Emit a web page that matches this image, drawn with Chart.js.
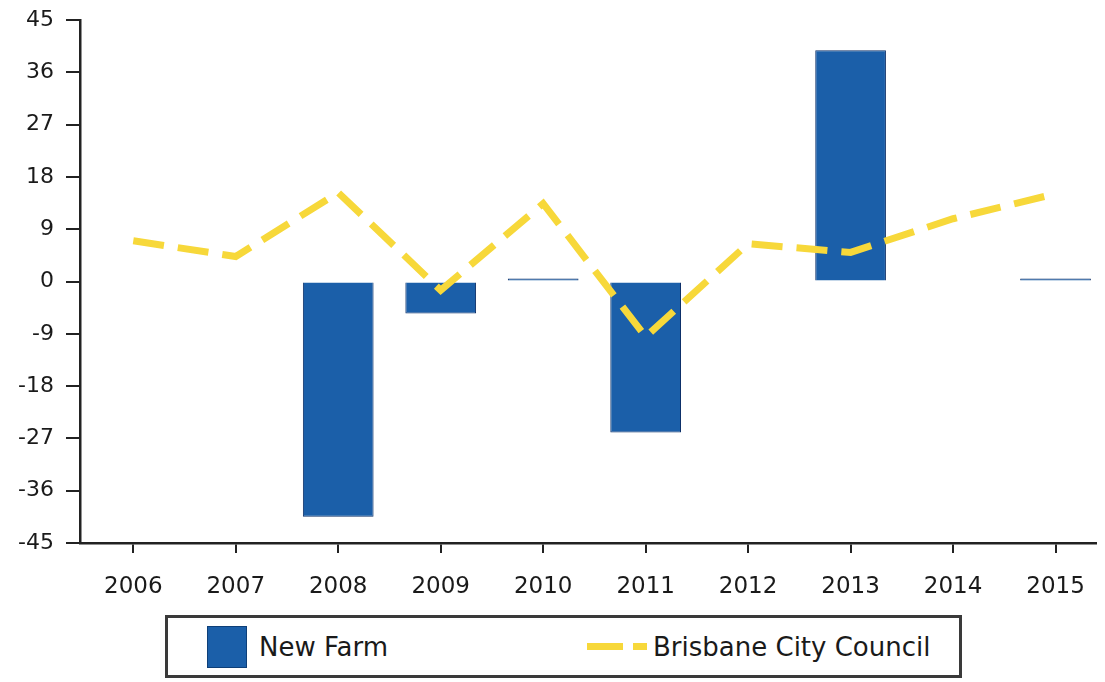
<!DOCTYPE html>
<html>
<head>
<meta charset="utf-8">
<script src="https://cdn.jsdelivr.net/npm/chart.js@4/dist/chart.umd.min.js"></script>
<style>
  body { margin: 0; background: #fff; }
  #wrap { position: relative; width: 1105px; height: 682px; }
  #legendBox {
    position: absolute; left: 165px; top: 615px; width: 797px; height: 63px;
    box-sizing: border-box; border: 3px solid #3a3a3a; background: #fff;
    font-family: "DejaVu Sans", sans-serif; font-size: 26px; color: #1a1a1a;
  }
  .item { position: absolute; top: 0; height: 57px; display: flex; align-items: center; }
  .swatch { width: 38px; height: 40px; margin-right: 12px; }
  .dash { display: flex; margin-right: 6px; }
  .dash span { height: 7px; display: block; }
</style>
</head>
<body>
<div id="wrap">
  <canvas id="chart" width="1105" height="682"></canvas>
  <div id="legendBox"></div>
</div>
<script>
// data
const years = [2006, 2007, 2008, 2009, 2010, 2011, 2012, 2013, 2014, 2015];
const newFarm = [null, null, -40.5, -5.5, 0.5, -26, null, 39.8, null, 0.5];
const brisbane = [7, 4.3, 15.3, -1.5, 13.4, -9.5, 6.5, 5, 10.8, 15.1];
const yTicks = [-45, -36, -27, -18, -9, 0, 9, 18, 27, 36, 45];

const barBlue = '#1b5fa9';
const lineYellow = '#f7d83a';

const toPoints = (arr) => years.map((y, i) => ({ x: y, y: arr[i] })).filter(p => p.y !== null);

const ctx = document.getElementById('chart').getContext('2d');
const chart = new Chart(ctx, {
    type: 'bar',
    data: {
        datasets: [
            {
                label: 'New Farm',
                data: toPoints(newFarm),
                backgroundColor: barBlue,
                borderColor: '#0d3069',
                borderWidth: 1,
                barPercentage: 0.69,
                categoryPercentage: 1,
                order: 1
            },
            {
                type: 'line',
                label: 'Brisbane City Council',
                data: toPoints(brisbane),
                borderColor: lineYellow,
                borderWidth: 7,
                borderDash: [31, 14],
                pointRadius: 0,
                tension: 0,
                fill: false,
                order: 0
            }
        ]
    },
    options: {
        responsive: false,
        animation: false,
        layout: { padding: { top: 20, right: 5, left: 0, bottom: 0 } },
        plugins: { legend: { display: false }, tooltip: { enabled: false } },
        scales: {
            x: {
                type: 'linear',
                offset: false,
                min: 2005.48,
                max: 2015.39,
                afterBuildTicks: (scale) => { scale.ticks = years.map(v => ({ value: v })); },
                afterFit: (scale) => { scale.height = 682 - 543; },
                grid: { offset: false, drawOnChartArea: false, drawTicks: true, tickLength: 10, color: '#222', lineWidth: 2 },
                border: { display: true, color: '#222', width: 2.5 },
                ticks: {
                    callback: (v) => String(v),
                    padding: 20,
                    color: '#1a1a1a',
                    font: { family: 'DejaVu Sans', size: 23 },
                    maxRotation: 0,
                    autoSkip: false
                }
            },
            y: {
                min: -45,
                max: 45,
                afterBuildTicks: (scale) => { scale.ticks = yTicks.map(v => ({ value: v })); },
                afterFit: (scale) => {
                    scale.width = 80;
                    scale.paddingTop = 0;
                    scale.paddingBottom = 0;
                },
                grid: { drawOnChartArea: false, drawTicks: true, tickLength: 14, color: '#222', lineWidth: 2 },
                border: { display: true, color: '#222', width: 2.5 },
                ticks: {
                    callback: (v) => String(v),
                    padding: 12,
                    color: '#1a1a1a',
                    font: { family: 'DejaVu Sans', size: 22 }
                }
            }
        }
    }
});

// legend drawn as html below the plot
function buildLegend() {
    const box = document.getElementById('legendBox');
    const ds = chart.data.datasets;
    const a = document.createElement('div');
    a.className = 'item';
    a.style.left = '39px';
    a.innerHTML = '<div class="swatch" style="background:' + ds[0].backgroundColor + ';border:1px solid #0e3f78"></div>' + ds[0].label;
    box.appendChild(a);

    const b = document.createElement('div');
    b.className = 'item';
    b.style.left = '419px';
    b.innerHTML = '<div class="dash"><span style="width:36px;background:' + lineYellow + '"></span>' +
        '<span style="width:10px"></span><span style="width:14px;background:' + lineYellow + '"></span></div>' + ds[1].label;
    box.appendChild(b);
}
buildLegend();
</script>
</body>
</html>
